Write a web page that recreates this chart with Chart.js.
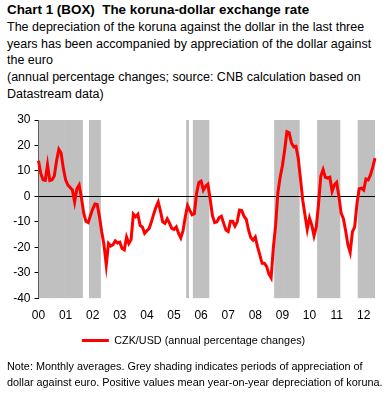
<!DOCTYPE html>
<html>
<head>
<meta charset="utf-8">
<script src="https://cdn.jsdelivr.net/npm/chart.js@4/dist/chart.umd.min.js"></script>
<style>
    body {
        margin: 0;
        width: 390px;
        height: 402px;
        background: #fff;
        position: relative;
        overflow: hidden;
        font-family: "Liberation Sans", Arial, sans-serif;
        color: #000;
    }
    #titolo {
        position: absolute;
        left: 7px;
        top: 2px;
        font-size: 13.4px;
        font-weight: bold;
        line-height: 16.67px;
        white-space: nowrap;
    }
    #testa {
        position: absolute;
        left: 7px;
        top: 19px;
        font-size: 12.5px;
        line-height: 16.67px;
        white-space: nowrap;
    }
    #grafico {
        position: absolute;
        left: 0;
        top: 104px;
    }
    #nota {
        position: absolute;
        left: 7px;
        top: 358.2px;
        font-size: 10.85px;
        line-height: 16px;
        white-space: nowrap;
    }
</style>
</head>
<body>

<div id="titolo">Chart 1 (BOX)&nbsp; The koruna-dollar exchange rate</div>

<div id="testa">
    The depreciation of the koruna against the dollar in the last three<br>
    years has been accompanied by appreciation of the dollar against<br>
    the euro<br>
    (annual percentage changes; source: CNB calculation based on<br>
    Datastream data)
</div>

<canvas id="grafico" width="390" height="256"></canvas>

<div id="nota">
    Note: Monthly averages. Grey shading indicates periods of appreciation of<br>
    dollar against euro. Positive values mean year-on-year depreciation of koruna.
</div>

<script>
// ================= DATI =================

const anni = ["2000", "2001", "2002", "2003", "2004", "2005", "2006",
              "2007", "2008", "2009", "2010", "2011", "2012"];

// CZK/USD, annual percentage changes, Jan 2000 - Jun 2012
const czkUsd = [
    14, 9, 6.5, 6.3, 12.5, 6.2, 6.5, 8, 14, 18.5, 17, 11,
    6.5, 4.5, 3.5, 2.5, -2.2, 3, 4.5, -0.5, -6.5, -9.8, -10.3, -7.5,
    -5, -3, -3.2, -8, -14, -19, -27, -18.5, -19.5, -19, -17.5, -18.3,
    -18, -20.5, -21, -16, -18.5, -17, -7, -8, -7, -11.5, -12, -14.5,
    -13.5, -12.6, -10, -7, -4.3, -2.2, -5.8, -10, -10.6, -8.8, -10.5, -12.6,
    -13, -12, -14.5, -16.3, -13.5, -8, -3.6, -5.5, -7.2, -6.8, 1.2, 5.5,
    6, 2.5, 4, 4.8, -1, -7.5, -10.3, -10, -8.3, -7.8, -10.6, -13.2,
    -13.8, -9.8, -9.8, -11.7, -10, -5.4, -5.6, -7.8, -9, -13.2, -16.2, -17.2,
    -16, -19.8, -23, -26.3, -26.3, -27.5, -30.5, -32, -20, -11.3, 1.5, 7.5,
    12, 18.2, 25.4, 25, 21, 19.5, 19.7, 15, 7, -1.5, -7.3, -13,
    -8.5, -11.3, -15.5, -12, -3, 8, 10.5, 7.5, 7.2, 7.5, 2, 4.5,
    5.5, 0, -6.5, -8.8, -13.5, -19, -22, -14, -12, -3, 3, 3.2,
    2.5, 6.8, 6.5, 8.4, 11.5, 15
];

// periods of appreciation of dollar against euro (first month, last month)
const periodiApprezzamento = [
    ["2000-01", "2001-08"],
    ["2001-12", "2002-04"],
    ["2005-07", "2005-07"],
    ["2005-10", "2006-04"],
    ["2008-10", "2009-08"],
    ["2010-05", "2011-02"],
    ["2011-11", "2012-06"]
];

const yMin = -40;
const yMax = 30;

// ================= MESI =================

const mesi = [];

anni.forEach(a => {
    for (let m = 1; m <= 12; m++) {
        if (mesi.length < czkUsd.length)
            mesi.push(a + "-" + String(m).padStart(2, "0"));
    }
});

const ombra = mesi.map(m =>
    periodiApprezzamento.some(p => m >= p[0] && m <= p[1])
        ? [yMin, yMax]
        : null
);

// ================= LINEA ZERO =================

const lineaZero = {
    id: "lineaZero",
    afterDatasetDraw(chart, args) {
        if (args.meta.type !== "bar") return;
        const { ctx, chartArea, scales } = chart;
        const y = Math.round(scales.y.getPixelForValue(0)) + 0.5;
        ctx.save();
        ctx.strokeStyle = "#000";
        ctx.lineWidth = 1;
        ctx.beginPath();
        ctx.moveTo(chartArea.left, y);
        ctx.lineTo(chartArea.right, y);
        ctx.stroke();
        ctx.restore();
    }
};

// ================= GRAFICO =================

const font = { family: "'Liberation Sans', Arial, sans-serif", size: 12 };

new Chart(document.getElementById("grafico"), {

    type: "bar",

    data: {
        labels: mesi,
        datasets: [
            {
                type: "bar",
                label: "appreciation of dollar",
                data: ombra,
                backgroundColor: "#c0c0c0",
                borderWidth: 0,
                barPercentage: 1,
                categoryPercentage: 1,
                order: 2
            },
            {
                type: "line",
                label: "CZK/USD (annual percentage changes)",
                data: czkUsd,
                borderColor: "#ff0000",
                backgroundColor: "#ff0000",
                borderWidth: 3,
                pointRadius: 0,
                tension: 0,
                order: 1
            }
        ]
    },

    options: {
        responsive: false,
        animation: false,
        layout: {
            padding: { top: 16, left: 12, right: 15, bottom: 4 }
        },
        plugins: {
            legend: {
                position: "bottom",
                labels: {
                    filter: item => item.datasetIndex === 1,
                    usePointStyle: true,
                    pointStyle: "line",
                    pointStyleWidth: 27,
                    color: "#000",
                    font: { family: font.family, size: 10.8 },
                    padding: 10
                }
            },
            tooltip: { enabled: false }
        },
        scales: {
            x: {
                offset: false,
                grid: { display: false },
                border: { display: false },
                afterFit: s => { s.height = 27; },
                ticks: {
                    autoSkip: false,
                    maxRotation: 0,
                    minRotation: 0,
                    padding: 2,
                    color: "#000",
                    font,
                    callback: (v, i) =>
                        mesi[i].endsWith("-01") ? mesi[i].slice(2, 4) : null
                }
            },
            y: {
                min: yMin,
                max: yMax,
                afterFit: s => { s.width = 26.5; },
                grid: {
                    drawOnChartArea: false,
                    color: "#000",
                    tickLength: 4
                },
                border: { display: true, color: "#000" },
                ticks: {
                    stepSize: 10,
                    padding: 4,
                    color: "#000",
                    font
                }
            }
        }
    },

    plugins: [lineaZero]

});
</script>
</body>
</html>
